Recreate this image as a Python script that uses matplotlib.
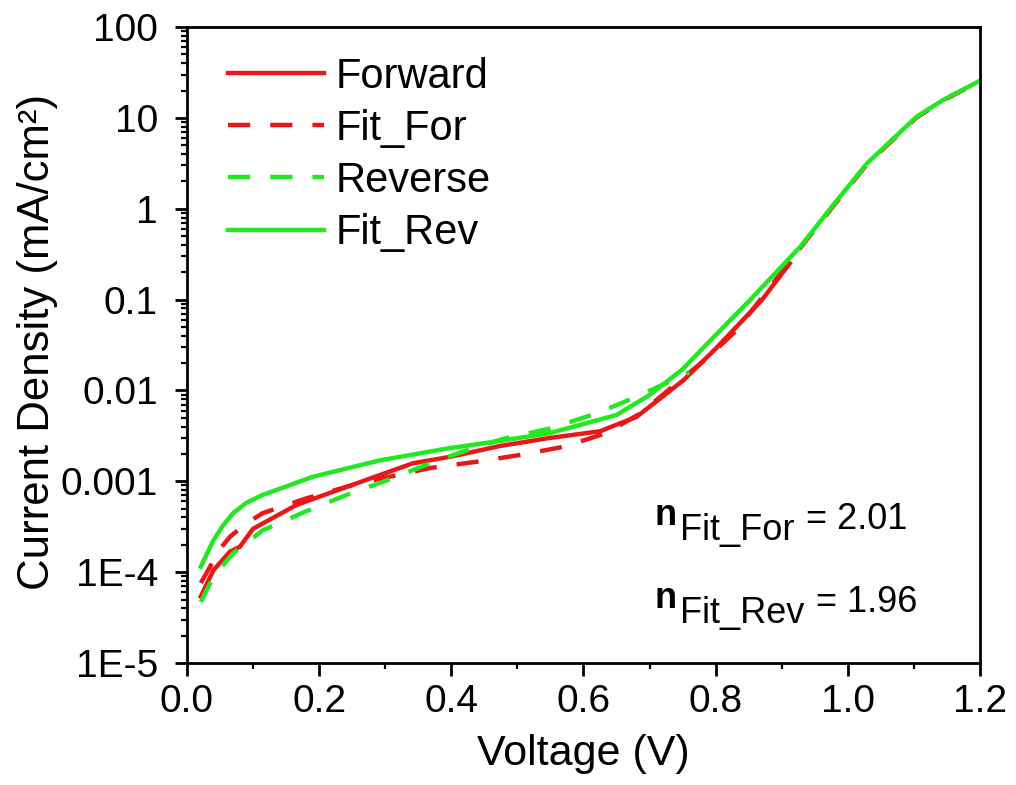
import matplotlib
matplotlib.use("Agg")
import matplotlib.pyplot as plt
from matplotlib.ticker import FixedLocator, NullFormatter

plt.rcParams['font.family'] = ['Liberation Sans', 'DejaVu Sans']

# ---- data ----
v_forward = [0.021, 0.04, 0.065, 0.08, 0.10, 0.166, 0.242, 0.342, 0.398, 0.474,
             0.549, 0.625, 0.65, 0.68, 0.751, 0.80, 0.87, 0.912]
j_forward = [5.4e-5, 1.05e-4, 1.68e-4, 1.9e-4, 3.0e-4, 5.5e-4, 8.7e-4, 1.58e-3, 1.86e-3, 2.45e-3,
             3.0e-3, 3.55e-3, 4.2e-3, 5.1e-3, 0.0129, 0.0288, 0.099, 0.25]

v_fit_for = [0.021, 0.035, 0.05, 0.065, 0.09, 0.115, 0.181, 0.26, 0.368, 0.443, 0.504, 0.57,
             0.635, 0.686, 0.786, 0.832, 0.928, 0.978, 1.029, 1.104, 1.144, 1.2]
j_fit_for = [7.6e-5, 1.15e-4, 1.8e-4, 2.45e-4, 3.45e-4, 4.47e-4, 6.5e-4, 9.5e-4, 1.4e-3, 1.66e-3,
             1.95e-3, 2.4e-3, 3.4e-3, 5.6e-3, 0.0224, 0.0462, 0.37, 1.07, 3.09, 10.1, 15.5, 25.4]

v_reverse = [0.021, 0.04, 0.07, 0.115, 0.181, 0.242, 0.302, 0.368, 0.423, 0.48,
             0.549, 0.62, 0.68, 0.74, 0.76]
j_reverse = [4.7e-5, 8.9e-5, 1.62e-4, 2.9e-4, 4.7e-4, 7.1e-4, 1.02e-3, 1.58e-3, 2.19e-3, 2.95e-3,
             3.8e-3, 5.6e-3, 8.5e-3, 0.0135, 0.0158]

v_fit_rev = [0.021, 0.04, 0.055, 0.07, 0.09, 0.115, 0.141, 0.19, 0.292, 0.393, 0.469, 0.549,
             0.65, 0.70, 0.751, 0.776, 0.80, 0.852, 0.928, 0.978, 1.029, 1.104, 1.144, 1.2]
j_fit_rev = [1.15e-4, 2.24e-4, 3.3e-4, 4.47e-4, 5.8e-4, 7.1e-4, 8.3e-4, 1.12e-3, 1.7e-3, 2.29e-3,
             2.75e-3, 3.39e-3, 5.37e-3, 8.9e-3, 0.0174, 0.0269, 0.0407, 0.0989, 0.382, 1.10, 3.16,
             10.3, 15.7, 25.7]

labels = ["Forward", "Fit_For", "Reverse", "Fit_Rev"]
x_ticks = [0.0, 0.2, 0.4, 0.6, 0.8, 1.0, 1.2]
x_tick_labels = ["0.0", "0.2", "0.4", "0.6", "0.8", "1.0", "1.2"]
y_ticks = [1e-5, 1e-4, 1e-3, 1e-2, 1e-1, 1, 10, 100]
y_tick_labels = ["1E-5", "1E-4", "0.001", "0.01", "0.1", "1", "10", "100"]
n_for = "2.01"
n_rev = "1.96"

RED = '#E81818'
GREEN = '#22E822'
dash = (0, (5.0, 4.5))

fig = plt.figure(figsize=(10.16, 7.85), dpi=100)
ax = fig.add_axes([0.184, 0.1554, 0.7806, 0.8102])

lw = 3.2
l1, = ax.plot(v_forward, j_forward, color=RED, lw=lw, ls='-', label=labels[0])
l2, = ax.plot(v_fit_for, j_fit_for, color=RED, lw=lw, ls=dash, label=labels[1])
l3, = ax.plot(v_reverse, j_reverse, color=GREEN, lw=lw, ls=dash, label=labels[2])
l4, = ax.plot(v_fit_rev, j_fit_rev, color=GREEN, lw=lw, ls='-', label=labels[3])

ax.set_yscale('log')
ax.set_xlim(0, 1.2)
ax.set_ylim(1e-5, 100)

ax.set_xticks(x_ticks)
ax.set_xticklabels(x_tick_labels)
ax.xaxis.set_minor_locator(FixedLocator([0.1, 0.3, 0.5, 0.7, 0.9, 1.1]))
ax.set_yticks(y_ticks)
ax.set_yticklabels(y_tick_labels)
minors = [m * 10.0 ** e for e in range(-5, 2) for m in range(2, 10)]
ax.yaxis.set_minor_locator(FixedLocator(minors))
ax.yaxis.set_minor_formatter(NullFormatter())

for s in ax.spines.values():
    s.set_linewidth(2.0)
ax.tick_params(which='major', direction='out', length=9, width=2.0, labelsize=28)
ax.tick_params(axis='x', which='major', pad=6)
ax.tick_params(axis='y', which='major', pad=12)
ax.tick_params(which='minor', direction='out', length=4.5, width=1.6)
ax.tick_params(top=False, right=False)

ax.set_xlabel("Voltage (V)", fontsize=31, labelpad=10)
ax.set_ylabel("Current Density (mA/cm²)", fontsize=31.5)
ax.yaxis.set_label_coords(-0.162, 0.505)

leg = ax.legend(handles=[l1, l2, l3, l4], loc='upper left', bbox_to_anchor=(0.052, 0.953),
                frameon=False, fontsize=30, handlelength=2.3, handletextpad=0.29,
                labelspacing=0.29, borderpad=0.0, borderaxespad=0.0)

# annotations
def n_label(x, y, sub, val):
    t1 = ax.text(x, y, "n", transform=ax.transAxes, fontsize=26, fontweight='bold',
                 va='baseline', ha='left')
    t2 = ax.annotate(sub, xy=(1, y), xycoords=(t1, 'axes fraction'), xytext=(2, -11),
                     textcoords='offset points', fontsize=26, va='baseline', ha='left')
    ax.annotate(" = " + val, xy=(1, y), xycoords=(t2, 'axes fraction'), xytext=(1, -3),
                textcoords='offset points', fontsize=26, va='baseline', ha='left')

n_label((655 - 187) / 793, (663 - 525) / 636, "Fit_For", n_for)
n_label((655 - 187) / 793, (663 - 608) / 636, "Fit_Rev", n_rev)

fig.savefig("out.png", dpi=100)
